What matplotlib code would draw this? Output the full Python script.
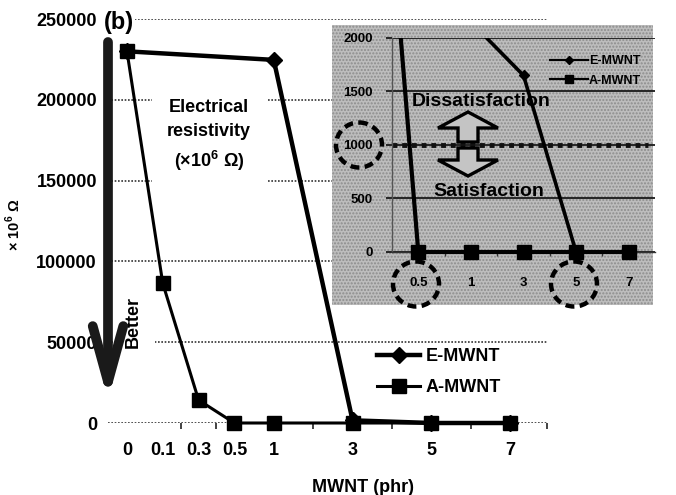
import numpy as np
import matplotlib
matplotlib.use('Agg')
import matplotlib.pyplot as plt
from matplotlib.transforms import Affine2D
from matplotlib.patches import Rectangle, Ellipse, Polygon, FancyArrowPatch
from matplotlib.lines import Line2D

# ---------------- data ----------------
categories = ['0', '0.1', '0.3', '0.5', '1', '3', '5', '7']
e_mwnt = [230000, np.nan, np.nan, np.nan, 224700, 1650, 0, 0]
a_mwnt = [230000, 86400, 14200, 0, 0, 0, 0, 0]
yticks_main = [0, 50000, 100000, 150000, 200000, 250000]

# inset (zoom on 0-2000); '0.3' lies left of the inset's visible range
inset_categories = ['0.3', '0.5', '1', '3', '5', '7']
inset_e = [np.nan, np.nan, 2150, 1650, 0, 0]
inset_a = [6000, 0, 0, 0, 0, 0]
inset_yticks = [0, 500, 1000, 1500, 2000]
threshold = 1000

# ---------------- layout ----------------
cat_pos = [0, 1, 2, 3, 4.1, 6.3, 8.5, 10.7]
inset_pos = [-1, 0, 1, 2, 3, 4]

plt.rcParams['font.family'] = ['Liberation Sans', 'DejaVu Sans']
plt.rcParams['font.weight'] = 'bold'
plt.rcParams['mathtext.fontset'] = 'custom'
plt.rcParams['mathtext.rm'] = 'Liberation Sans:bold'
plt.rcParams['mathtext.bf'] = 'Liberation Sans:bold'

W, H = 676, 495
fig = plt.figure(figsize=(W / 100, H / 100), dpi=100)
pxT = Affine2D().scale(1 / W, -1 / H).translate(0, 1) + fig.transFigure


def fx(x):
    return x / W


def fy(y):
    return 1 - y / H


# ---------------- main axes ----------------
ax = fig.add_axes([fx(108), fy(423), 440 / W, 404 / H])
ax.set_xlim(-0.53, 11.76)
ax.set_ylim(0, 250000)
for s in ax.spines.values():
    s.set_visible(False)
ax.set_yticks(yticks_main)
ax.set_yticklabels([str(v) for v in yticks_main])
ax.tick_params(axis='y', length=0, pad=8, labelsize=13)
ax.set_xticks(cat_pos)
ax.set_xticklabels(categories)
ax.tick_params(axis='x', which='major', length=0, pad=14, labelsize=13)
ax.set_xticks([1.5, 2.5, 5.2, 7.4, 9.6, 11.74], minor=True)
ax.tick_params(axis='x', which='minor', length=4, width=1.2, color='#222',
               direction='out')
ax.grid(axis='y', ls=(0, (1, 1)), lw=1.2, color='#333')
ax.set_axisbelow(True)

xs = np.array(cat_pos)
a = np.array(a_mwnt, float)
e = np.array(e_mwnt, float)
m = ~np.isnan(e)
ax.plot(xs[m], e[m], color='black', lw=3.2, marker='D', ms=8, clip_on=False,
        zorder=3)
ax.plot(xs, a, color='black', lw=2.2, marker='s', ms=10, clip_on=False,
        zorder=4)

# white boxes behind annotations
ax.add_patch(Rectangle((152, 88), 116, 102, transform=pxT, fc='white',
                       ec='none', zorder=1))
ax.add_patch(Rectangle((113, 270), 42, 102, transform=pxT, fc='white',
                       ec='none', zorder=1))
ax.text(209, 136, 'Electrical\nresistivity\n(×10$^{6}$ Ω)', transform=pxT,
        ha='center', va='center', fontsize=13, linespacing=1.5, zorder=2.5)
ax.text(133, 322, 'Better', transform=pxT, rotation=90, ha='center',
        va='center', fontsize=13, zorder=2.5)
ax.text(119, 23, '(b)', transform=pxT, ha='center', va='center', fontsize=17,
        zorder=2.5, bbox=dict(fc='white', ec='none', pad=1))

leg_handles = [Line2D([], [], color='black', lw=3.2, marker='D', ms=8),
               Line2D([], [], color='black', lw=2.2, marker='s', ms=10)]
ax.legend(leg_handles, ['E-MWNT', 'A-MWNT'], loc='upper left',
          bbox_to_anchor=(377, 348), bbox_transform=pxT, frameon=False,
          borderpad=0, borderaxespad=0, handlelength=2.4, handletextpad=0.3,
          labelspacing=0.78, fontsize=13, numpoints=1)

fig.text(13, 225, '× 10$^{6}$ Ω', transform=pxT, rotation=90, ha='center',
         va='center', fontsize=10.5)
fig.text(363, 487, 'MWNT (phr)', transform=pxT, ha='center', va='center',
         fontsize=13)

# big "better" arrow
fig.add_artist(FancyArrowPatch(posA=(108, 42), posB=(108, 400), transform=pxT,
                               arrowstyle='->,head_length=4,head_width=1.1',
                               mutation_scale=10, lw=7, color='#1a1a1a',
                               shrinkA=0, shrinkB=0, zorder=5))

# ---------------- inset ----------------
fig.add_artist(Rectangle((332, 25), 321, 280, transform=pxT, fc='#bdbdbd',
                         ec='#8c8c8c', lw=0, hatch='.....', zorder=0.5))
ax2 = fig.add_axes([fx(392), fy(252), 263 / W, 214 / H])
ax2.set_zorder(1)
ax2.set_facecolor('none')
ax2.set_xlim(-0.5, 4.5)
ax2.set_ylim(0, 2000)
for side in ['top', 'right']:
    ax2.spines[side].set_visible(False)
ax2.spines['left'].set_color('#555')
ax2.spines['left'].set_linewidth(1)
ax2.spines['bottom'].set_color('#333')
ax2.spines['bottom'].set_linewidth(1)
ax2.set_yticks(inset_yticks)
ax2.set_yticklabels([str(v) for v in inset_yticks])
ax2.tick_params(axis='y', length=4, width=1.3, color='#1a1a1a', pad=10,
                labelsize=9.5)
ax2.set_xticks(range(len(inset_categories) - 1))
ax2.set_xticklabels(inset_categories[1:])
ax2.tick_params(axis='x', which='major', length=0, pad=18, labelsize=9.5)
ax2.set_xticks([0.5, 1.5, 2.5, 3.5], minor=True)
ax2.tick_params(axis='x', which='minor', length=3, width=1, color='#333')
ax2.grid(axis='y', color='#1a1a1a', lw=1.3, ls='-')
ax2.set_axisbelow(True)

ax2.axhline(threshold, xmin=0, xmax=0.973, color='#111', lw=3.5,
            ls=(0, (1, 1)), zorder=2)

clip = Rectangle((-0.2, -0.3), 1.4, 1.3, transform=ax2.transAxes,
                 fc='none', ec='none')
ipos = np.array(inset_pos)
ie = np.array(inset_e, float)
ia = np.array(inset_a, float)
m2 = ~np.isnan(ie)
l1, = ax2.plot(ipos[m2], ie[m2], color='black', lw=2.6, marker='D', ms=5,
               zorder=3)
l2, = ax2.plot(ipos, ia, color='black', lw=3, marker='s', ms=9.5, zorder=4)
for ln in (l1, l2):
    ln.set_clip_path(clip)

ax2.text(481, 102, 'Dissatisfaction', transform=pxT, ha='center',
         va='center', fontsize=14, zorder=2.5)
ax2.text(489, 191, 'Satisfaction', transform=pxT, ha='center', va='center',
         fontsize=14, zorder=2.5)

up = [(468, 112), (498, 128), (478, 128), (478, 142), (458, 142), (458, 128),
      (438, 128)]
down = [(458, 148), (478, 148), (478, 160), (498, 160), (468, 176),
        (438, 160), (458, 160)]
for pts in (up, down):
    ax2.add_patch(Polygon(pts, closed=True, transform=pxT, fc='#c4c4c4',
                          ec='black', lw=2.4, zorder=2.6, clip_on=False))

for (cx, cy) in [(359, 145), (416, 284), (574, 284)]:
    ax2.add_patch(Ellipse((cx, cy), 46, 45, transform=pxT, fill=False,
                          ec='black', lw=3.2, ls=(0, (2, 1.2)), zorder=5,
                          clip_on=False))

ih = [Line2D([], [], color='black', lw=1.6, marker='D', ms=4),
      Line2D([], [], color='black', lw=1.6, marker='s', ms=6)]
ax2.legend(ih, ['E-MWNT', 'A-MWNT'], loc='upper left',
           bbox_to_anchor=(550, 55), bbox_transform=pxT, frameon=False,
           borderpad=0, borderaxespad=0, handlelength=3.0, handletextpad=0.1,
           labelspacing=0.6, fontsize=9, numpoints=1)

fig.savefig('out.png', dpi=100)
